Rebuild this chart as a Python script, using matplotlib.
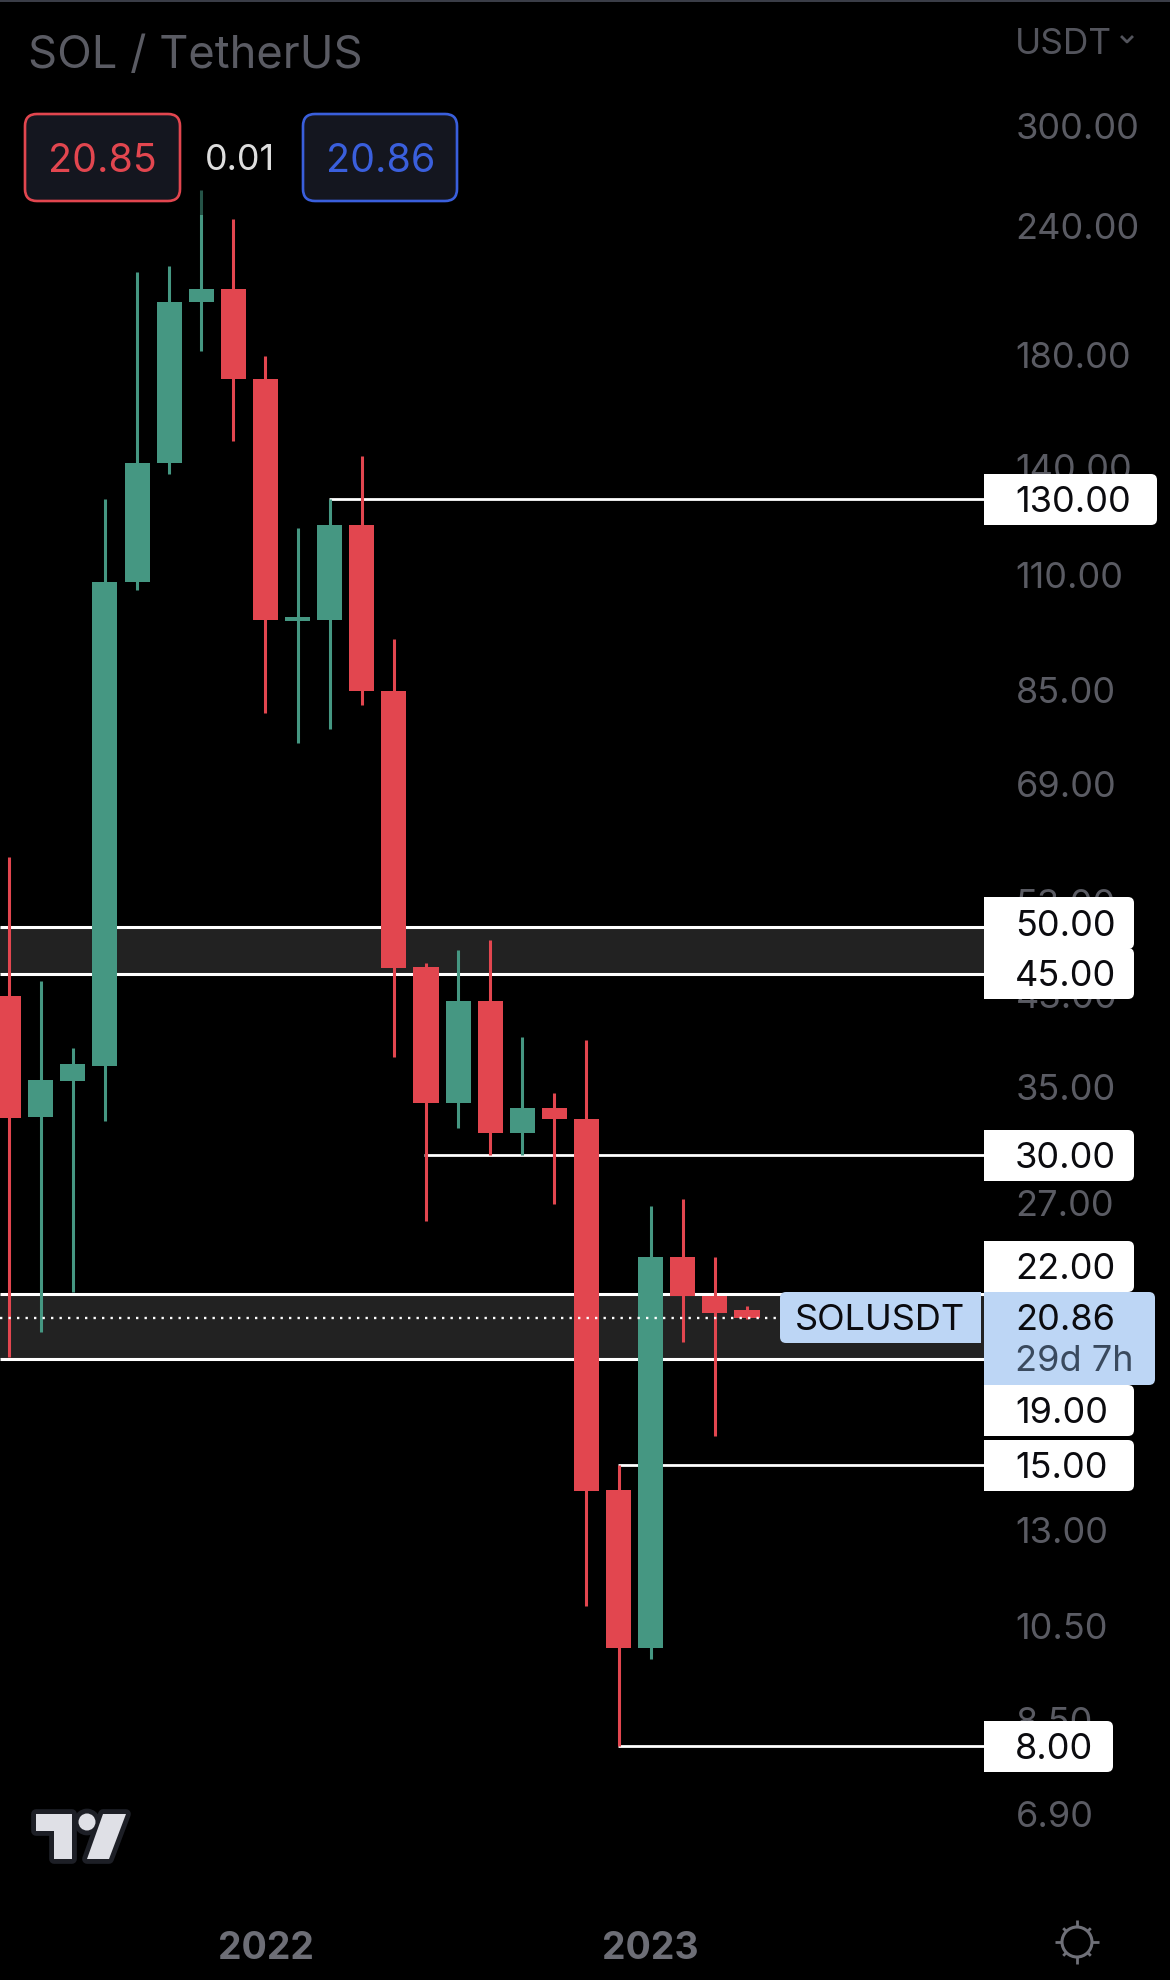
import matplotlib
matplotlib.use("Agg")
import matplotlib.pyplot as plt
from matplotlib.patches import FancyBboxPatch, Rectangle, Polygon, Circle
from matplotlib.ticker import NullLocator, FixedLocator, FixedFormatter

plt.rcParams['font.family'] = ['Inter', 'DejaVu Sans']

W, H = 1170, 1981
# monthly candles
opens  = [42.8, 32.7, 35.4, 36.6, 108, 141, 201.8, 208, 170, 99, 99.3, 122.8, 84.6, 45.7, 33.7, 42.3, 31.5, 33.3, 32.5, 14.2, 9.97, 23.9, 21.9, 21.2]
closes = [32.6, 35.5, 36.8, 108, 141, 202, 208, 170, 99.3, 100, 122.8, 84.6, 45.6, 33.7, 42.3, 31.5, 33.3, 32.5, 14.15, 9.97, 23.9, 21.9, 21.1, 20.85]
highs  = [58.4, 44.3, 38.1, 130, 216, 219, 259.5, 243, 179, 122, 130, 143, 95, 46.1, 47.4, 48.5, 39.1, 34.5, 38.8, 15, 26.8, 27.2, 23.9, 21.4]
lows   = [19.1, 20.2, 22.1, 32.4, 106, 137.5, 181, 148, 80.6, 75.3, 77.7, 82, 37.4, 25.9, 31.9, 30, 30, 26.9, 10.95, 8, 9.72, 19.75, 16, 20.8]

price_ticks = [300, 240, 180, 140, 110, 85, 69, 53, 43, 35, 27, 13, 10.5, 8.5, 6.9]
price_tick_labels = ['300.00', '240.00', '180.00', '140.00', '110.00', '85.00', '69.00', '53.00', '43.00',
                     '35.00', '27.00', '13.00', '10.50', '8.50', '6.90']
year_positions = [8, 20]
year_labels = ['2022', '2023']

# horizontal levels: (price, first candle)
level_prices = [130, 30, 15, 8]
level_starts = [9.97, 12.95, 18.97, 18.97]
band_ranges = [(45, 50), (19, 22)]
last_price = 20.86

GREEN, RED = '#459782', '#e2464f'
GREY, GREY2 = '#5a5b63', '#6d6e76'
LBLUE = '#bdd6f5'
FS = 26

fig = plt.figure(figsize=(W / 100, H / 100), dpi=100, facecolor='black')
AX_R, AX_B = 1012, 1920
ax = fig.add_axes([0, 1 - AX_B / H, AX_R / W, AX_B / H], facecolor='black')
ax.set_yscale('log')
ax.set_ylim(5.44, 397.6)
ax.set_xlim(-0.27, 31.255)
for s in ax.spines.values():
    s.set_visible(False)

xs = list(range(len(opens)))
colors = [GREEN if c >= o else RED for o, c in zip(opens, closes)]
LEVEL_END = 30.4

# bands and levels
for lo, hi in band_ranges:
    ax.fill_between([-0.27, LEVEL_END], lo, hi, color='#222222', lw=0, zorder=1)
    ax.hlines([lo, hi], -0.27, LEVEL_END, color='white', lw=2.2, zorder=1.5)
ax.hlines(level_prices, level_starts, LEVEL_END, color='white', lw=2.0, zorder=1.5)

# candles
ax.vlines(xs, lows, highs, colors=colors, lw=2.2, zorder=3)
ax.bar(xs, [abs(c - o) for o, c in zip(opens, closes)], bottom=[min(o, c) for o, c in zip(opens, closes)],
       width=0.78, color=colors, lw=0, zorder=3)
# last price
ax.hlines(last_price, -0.27, 24.1, color='white', lw=1.7, linestyles=(0, (1, 2.6)), zorder=4)

ax.yaxis.tick_right()
ax.yaxis.set_major_locator(FixedLocator(price_ticks))
ax.yaxis.set_major_formatter(FixedFormatter(price_tick_labels))
ax.yaxis.set_minor_locator(NullLocator())
ax.tick_params(axis='y', which='major', length=0, pad=2.5, labelsize=FS, labelcolor=GREY)
ax.set_xticks(year_positions)
ax.set_xticklabels(year_labels, fontweight='bold')
ax.tick_params(axis='x', length=0, pad=8, labelsize=27, labelcolor=GREY2)

# overlay in pixel space
ov = fig.add_axes([0, 0, 1, 1], facecolor='none', zorder=5)
ov.set_xlim(0, W)
ov.set_ylim(H, 0)
ov.axis('off')

ov.add_patch(Rectangle((0, 0), W, 2.5, color='#3a3d47', lw=0))
ov.add_patch(Rectangle((196, 188), 12, 28, color='black', alpha=0.45, lw=0))

ov.text(28, 56, 'SOL / TetherUS', color=GREY, fontsize=32.6, va='center', ha='left')
ov.text(1015, 45, 'USDT', color='#53545c', fontsize=25.4, va='center', ha='left')
ov.plot([1122, 1127, 1132], [38, 43, 38], color='#53545c', lw=2)


def rbox(x0, y0, x1, y1, fc, ec='none', lw=0, r=8, z=6):
    ov.add_patch(FancyBboxPatch((x0 + r, y0 + r), x1 - x0 - 2 * r, y1 - y0 - 2 * r,
                                boxstyle=f'round,pad={r},rounding_size={r}', fc=fc, ec=ec, lw=lw, zorder=z))


def label(x1, y0, y1, txt):
    rbox(984, y0, x1, y1, 'white', r=6, z=6)
    ov.add_patch(Rectangle((984, y0), 40, y1 - y0, fc='white', lw=0, zorder=6))
    ov.text(1015, (y0 + y1) / 2 + 2.5, txt, color='#0b0b0f', fontsize=FS, va='center', ha='left', zorder=7)


# bid/ask boxes
rbox(25, 115, 180, 202, '#14161f', RED, 1.9, r=12)
rbox(303, 115, 457, 202, '#14161f', '#3a5fdc', 1.9, r=12)
ov.text(102.5, 161, '20.85', color=RED, fontsize=28.4, va='center', ha='center', zorder=7)
ov.text(381, 161, '20.86', color='#3a5fdc', fontsize=28.4, va='center', ha='center', zorder=7)
ov.text(240, 161, '0.01', color='#dddddd', fontsize=25.9, va='center', ha='center', zorder=7)

label(1157, 475, 526, '130.00')
label(1134, 898, 950, '50.00')
label(1134, 949, 1000, '45.00')
label(1134, 1131, 1182, '30.00')
label(1134, 1242, 1293, '22.00')
label(1134, 1386, 1437, '19.00')
label(1134, 1441, 1492, '15.00')
label(1113, 1722, 1773, '8.00')

# last price labels
rbox(984, 1293, 1155, 1386, LBLUE, r=6, z=8)
ov.add_patch(Rectangle((984, 1293), 40, 93, fc=LBLUE, lw=0, zorder=8))
ov.text(1015, 1321, '20.86', color='#0b0b0f', fontsize=FS, va='center', ha='left', zorder=9)
ov.text(1015, 1362, '29d 7h', color='#3a4a5e', fontsize=FS, va='center', ha='left', zorder=9)
rbox(780, 1293, 981, 1344, LBLUE, r=6, z=8)
ov.add_patch(Rectangle((940, 1293), 41, 51, fc=LBLUE, lw=0, zorder=8))
ov.text(880, 1321, 'SOLUSDT', color='#0b0b0f', fontsize=FS, va='center', ha='center', zorder=9)

# TradingView logo
LOGO, LEDGE = '#dfe0e6', '#1d1f26'
logo_shapes = [
    Polygon([(36, 1815), (72, 1815), (72, 1860), (54, 1860), (54, 1832), (36, 1832)], closed=True),
    Circle((87, 1823), 8.5),
    Polygon([(103, 1815), (126, 1815), (109, 1860), (87, 1860)], closed=True),
]
for p in logo_shapes:
    p.set(fc=LEDGE, ec=LEDGE, lw=7, joinstyle='round', zorder=6)
    ov.add_patch(p)
logo_fill = [
    Polygon([(36, 1815), (72, 1815), (72, 1860), (54, 1860), (54, 1832), (36, 1832)], closed=True),
    Circle((87, 1823), 8.5),
    Polygon([(103, 1815), (126, 1815), (109, 1860), (87, 1860)], closed=True),
]
for p in logo_fill:
    p.set(fc=LOGO, ec='none', zorder=6.5)
    ov.add_patch(p)

# settings icon
cx, cy = 1077, 1943
SUN = '#6f7078'
ov.add_patch(Circle((cx, cy), 15, fc='none', ec=SUN, lw=2.2))
d = 0.7071
for ux, uy, rr in [(1, 0, 22), (-1, 0, 22), (0, 1, 22), (0, -1, 22),
                   (d, d, 19.5), (-d, d, 19.5), (d, -d, 19.5), (-d, -d, 19.5)]:
    ov.plot([cx + 15 * ux, cx + rr * ux], [cy + 15 * uy, cy + rr * uy], color=SUN, lw=2.0, solid_capstyle='butt')

fig.savefig('out.png', dpi=100, facecolor='black')
